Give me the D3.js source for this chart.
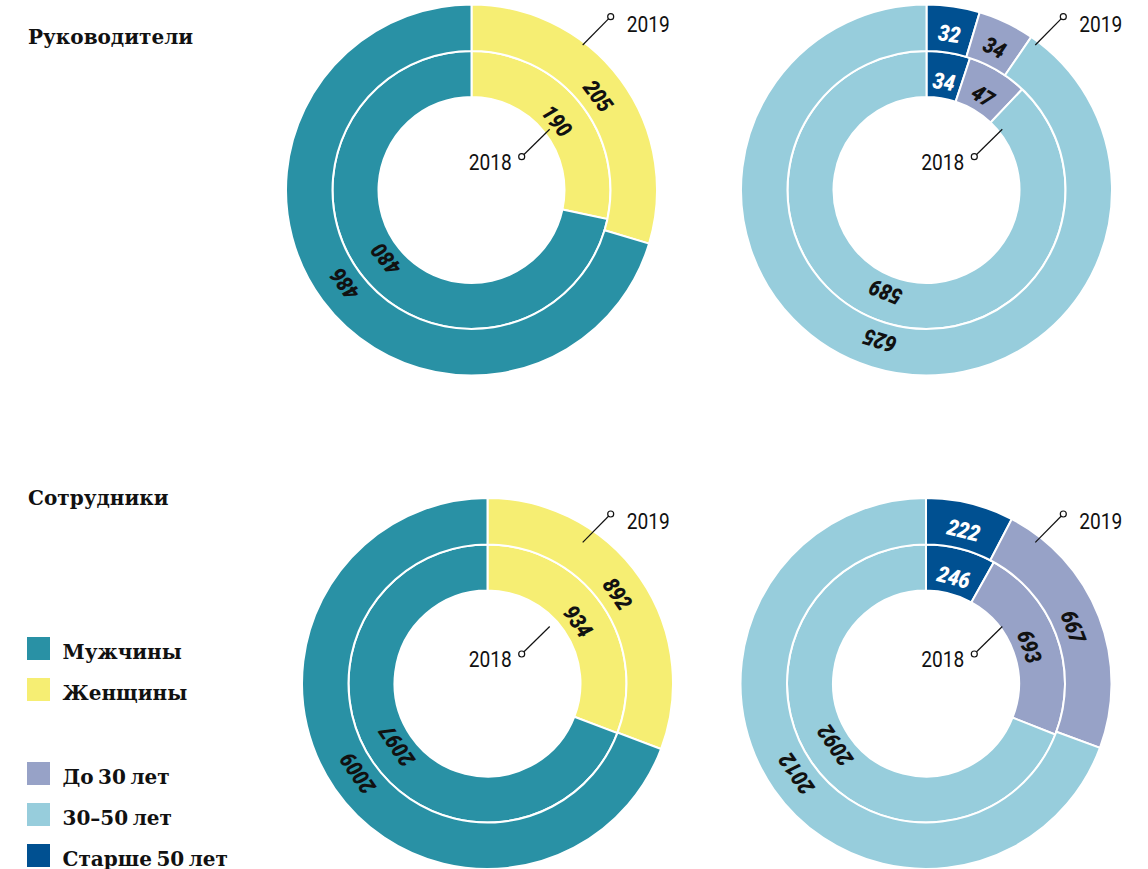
<!DOCTYPE html>
<html lang="ru">
<head>
<meta charset="utf-8">
<script src="https://cdn.jsdelivr.net/npm/d3@7"></script>
<style>
  html, body { margin: 0; padding: 0; background: #ffffff; }
  svg { display: block; }
  .title, .legend-label { font-family: "DejaVu Serif", serif; font-weight: bold; fill: #111; }
  .legend-label { word-spacing: -2.5px; }
  .value { font-family: Roboto, "Noto Sans", sans-serif; font-weight: 900; font-style: italic; }
  .year { font-family: Roboto, "Noto Sans", sans-serif; fill: #111; }
</style>
</head>
<body>
<svg id="chart" width="1148" height="869"></svg>
<script>
// Segment order, clockwise from 12 o'clock
const genderCategories = ["Женщины", "Мужчины"];
const ageCategories = ["Старше 50 лет", "До 30 лет", "30–50 лет"];

// Headcount: managers
const managersByGender2018 = [190, 480];
const managersByGender2019 = [205, 486];
const managersByAge2018 = [34, 47, 589];
const managersByAge2019 = [32, 34, 625];

// Headcount: all staff
const staffByGender2018 = [934, 2097];
const staffByGender2019 = [892, 2009];
const staffByAge2018 = [246, 693, 2092];
const staffByAge2019 = [222, 667, 2012];

const sectionTitles = ["Руководители", "Сотрудники"];
const yearLabels = ["2018", "2019"];
const legendGender = ["Мужчины", "Женщины"];
const legendAge = ["До 30 лет", "30–50 лет", "Старше 50 лет"];

const color = d3.scaleOrdinal()
  .domain(["Мужчины", "Женщины", "До 30 лет", "30–50 лет", "Старше 50 лет"])
  .range(["#2991a5", "#f6ee73", "#97a2c7", "#97cddc", "#005091"]);
const labelColor = d3.scaleOrdinal()
  .domain(["Мужчины", "Женщины", "До 30 лет", "30–50 лет", "Старше 50 лет"])
  .range(["#111", "#111", "#111", "#111", "#ffffff"]);

const svg = d3.select("#chart");

// Ring geometry (inner ring = 2018, outer ring = 2019)
const ring = {
  inner: { r0: 93, r1: 139, label: 110 },
  outer: { r0: 139, r1: 185.5, label: 158 }
};

const panels = [
  { cx: 471.5, cy: 190, cats: genderCategories, v2018: managersByGender2018, v2019: managersByGender2019, ax: 610.7, ay: 16.7 },
  { cx: 926.5, cy: 190, cats: ageCategories, v2018: managersByAge2018, v2019: managersByAge2019, ax: 1063.3, ay: 16.7 },
  { cx: 487.5, cy: 683.5, cats: genderCategories, v2018: staffByGender2018, v2019: staffByGender2019, ax: 610.7, ay: 514 },
  { cx: 926, cy: 683.5, cats: ageCategories, v2018: staffByAge2018, v2019: staffByAge2019, ax: 1063.3, ay: 514 }
];

const pie = d3.pie().sort(null).value(d => d.value);

function drawRing(g, cats, values, geom) {
  const data = pie(cats.map((c, i) => ({ key: c, value: values[i] })));
  const arc = d3.arc().innerRadius(geom.r0).outerRadius(geom.r1);
  const labelArc = d3.arc().innerRadius(geom.label).outerRadius(geom.label);

  g.selectAll(null).data(data).join("path")
    .attr("d", arc)
    .attr("fill", d => color(d.data.key))
    .attr("stroke", "#ffffff")
    .attr("stroke-width", 2);

  g.selectAll(null).data(data).join("text")
    .attr("class", "value")
    .attr("transform", d => {
      const [x, y] = labelArc.centroid(d);
      const deg = (d.startAngle + d.endAngle) / 2 * 180 / Math.PI;
      return `translate(${x},${y}) rotate(${deg}) scale(0.87,1)`;
    })
    .attr("text-anchor", "middle")
    .attr("dy", "0.36em")
    .attr("font-size", 22.5)
    .attr("fill", d => labelColor(d.data.key))
    .text(d => d.data.value);
}

panels.forEach(p => {
  const g = svg.append("g").attr("transform", `translate(${p.cx},${p.cy})`);
  drawRing(g.append("g"), p.cats, p.v2018, ring.inner);
  drawRing(g.append("g"), p.cats, p.v2019, ring.outer);

  // Year callouts: 2019 points at the outer ring, 2018 at the inner ring
  const callouts = [
    { text: yearLabels[1], x: p.ax, y: p.ay, dx: -28, dy: 28.3, tx: 16, ty: 15, anchor: "start" },
    { text: yearLabels[0], x: p.ax - 89, y: p.ay + 140, dx: 28, dy: -27.5, tx: -10, ty: 13.3, anchor: "end" }
  ];
  const a = svg.append("g");
  callouts.forEach(c => {
    a.append("line")
      .attr("x1", c.x).attr("y1", c.y)
      .attr("x2", c.x + c.dx).attr("y2", c.y + c.dy)
      .attr("stroke", "#111").attr("stroke-width", 1.2);
    a.append("circle")
      .attr("cx", c.x).attr("cy", c.y).attr("r", 3)
      .attr("fill", "#fff").attr("stroke", "#111").attr("stroke-width", 1.2);
    a.append("text")
      .attr("class", "year")
      .attr("transform", `translate(${c.x + c.tx},${c.y + c.ty}) scale(0.87,1)`)
      .attr("text-anchor", c.anchor)
      .attr("font-size", 22)
      .text(c.text);
  });
});

// Section titles
svg.selectAll(".title").data(sectionTitles).join("text")
  .attr("class", "title")
  .attr("x", 28)
  .attr("y", (d, i) => [44, 505][i])
  .attr("font-size", 20)
  .text(d => d);

// Legend
const legendItems = [
  ...legendGender.map((d, i) => ({ key: d, y: 637 + i * 41 })),
  ...legendAge.map((d, i) => ({ key: d, y: 762 + i * 41 }))
];
const lg = svg.append("g");
lg.selectAll("rect").data(legendItems).join("rect")
  .attr("x", 27).attr("y", d => d.y)
  .attr("width", 23).attr("height", 23)
  .attr("fill", d => color(d.key));
lg.selectAll("text").data(legendItems).join("text")
  .attr("class", "legend-label")
  .attr("x", 62.5).attr("y", d => d.y + 21.5)
  .attr("font-size", 20)
  .text(d => d.key);
</script>
</body>
</html>
